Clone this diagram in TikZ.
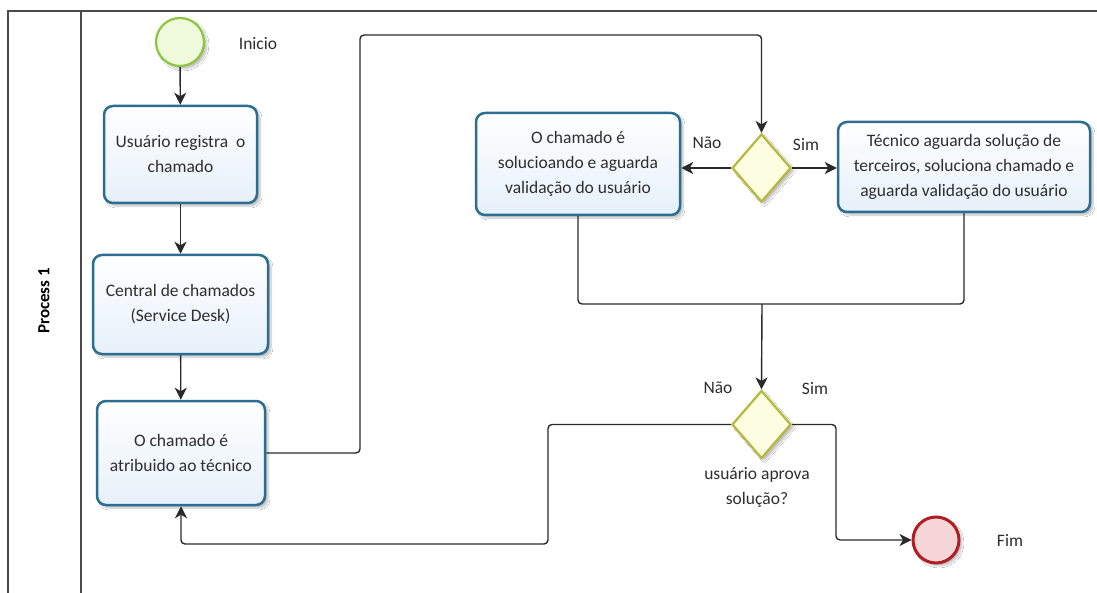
\documentclass[tikz,border=0pt]{standalone}
\usepackage{fontspec}
\setmainfont{Carlito}
\usetikzlibrary{shapes.geometric,arrows.meta,shadows.blur}
\definecolor{boxline}{HTML}{2B6E92}
\definecolor{boxfill}{HTML}{E6F0FA}
\definecolor{startline}{HTML}{8CC63F}
\definecolor{startfill}{HTML}{EFFADC}
\definecolor{endline}{HTML}{B01E23}
\definecolor{endfill}{HTML}{F6D5D9}
\definecolor{gwline}{HTML}{B5B83A}
\definecolor{gwfill}{HTML}{FDFDE1}
\definecolor{txt}{HTML}{2E2E2E}
\definecolor{conn}{HTML}{2A2A2A}
\definecolor{frame}{HTML}{4A4A4A}
\begin{document}
\begin{tikzpicture}[x=1pt,y=-1pt,
  font=\fontsize{17.5}{25}\selectfont, text=txt,
  shad/.style={blur shadow={shadow xshift=3pt, shadow yshift=-3pt, shadow opacity=25, shadow blur steps=6}},
  task/.style={draw=boxline, line width=2.5pt, rounded corners=9pt, top color=white, bottom color=boxfill, align=center, inner sep=0pt, shad},
  gw/.style={diamond, draw=gwline, line width=2.2pt, fill=gwfill, minimum width=59pt, minimum height=68pt, inner sep=0pt, shad},
  lbl/.style={align=center, inner sep=1pt},
  conn/.style={draw=conn, line width=1.4pt, rounded corners=4pt},
  arr/.style={conn, -{Stealth[length=12pt,width=12pt,inset=3.5pt]}}]
\useasboundingbox (0,0) rectangle (1097,593);
\fill[white] (0,0) rectangle (1097,593);
% pool frame
\draw[frame, line width=1.5pt] (8,593) -- (8,11) -- (1097,11);
\draw[frame, line width=1.5pt] (81,11) -- (81,593);
\node[rotate=90, font=\bfseries\fontsize{17}{20}\selectfont, text=black] (pool) at (44,301) {Process 1};
% events
\node[circle, draw=startline, line width=2.2pt, fill=startfill, minimum size=48pt, inner sep=0pt, shad] (start) at (180,42) {};
\node[lbl] (inicio) at (258,44) {Inicio};
\node[circle, draw=endline, line width=3pt, fill=endfill, minimum size=46pt, inner sep=0pt, shad] (end) at (936,540) {};
\node[lbl] (fim) at (1010,540) {Fim};
% tasks
\node[task, minimum width=153pt, minimum height=97pt] (b1) at (180.5,154.5) {Usuário registra\ \ o\\chamado};
\node[task, minimum width=175pt, minimum height=99pt] (b2) at (180.5,304.5) {Central de chamados\\(Service Desk)};
\node[task, minimum width=168pt, minimum height=104pt] (b3) at (181,453) {O chamado é\\atribuido ao técnico};
\node[task, minimum width=204pt, minimum height=102pt] (b4) at (578,164) {O chamado é\\solucioando e aguarda\\validação do usuário};
\node[task, minimum width=252pt, minimum height=90pt] (b5) at (964,167) {Técnico aguarda solução de\\terceiros, soluciona chamado e\\aguarda validação do usuário};
% gateways
\node[gw] (d1) at (761.5,168) {};
\node[gw] (d2) at (761.5,424.5) {};
\node[lbl] (q) at (757,487) {usuário aprova\\solução?};
\node[lbl] (n1) at (707,143) {Não};
\node[lbl] (s1) at (806,145) {Sim};
\node[lbl] (n2) at (718,388) {Não};
\node[lbl] (s2) at (815,389) {Sim};
% connectors
\draw[arr] (start) -- (b1);
\draw[arr] (b1) -- (b2);
\draw[arr] (b2) -- (b3);
\coordinate (c1) at (360,35);
\draw[arr] (b3.east) -| (c1) -| (d1.north);
\draw[arr] (d1.west) -- (d1.west -| b4.east);
\draw[arr] (d1.east) -- (d1.east -| b5.west);
\coordinate (m) at (762,304);
\draw[conn] (b4.south) |- (m);
\draw[conn] (b5.south) |- (m);
\draw[arr] (m) -- (d2.north);
\coordinate (c2) at (548,544);
\draw[arr] (d2.west) -| (c2) -| (b3.south);
\coordinate (c3) at (836,540);
\draw[arr] (d2.east) -| (c3) -- (end.west);
\end{tikzpicture}
\end{document}
